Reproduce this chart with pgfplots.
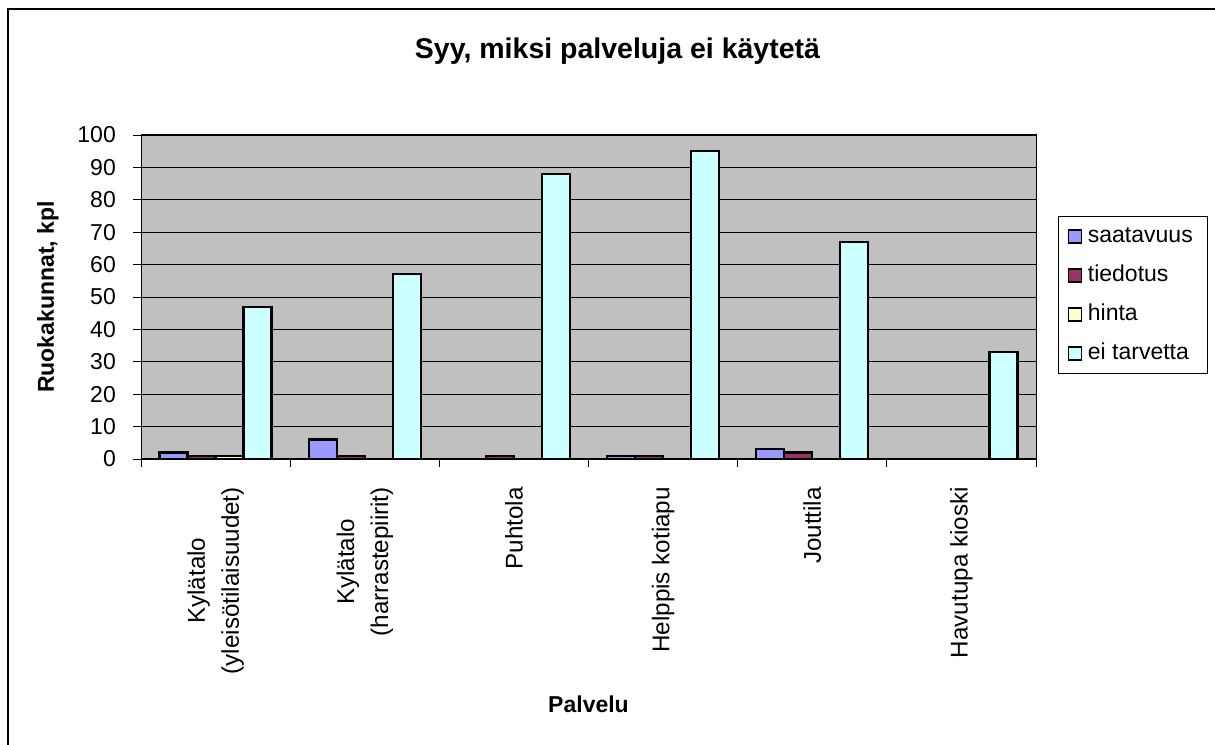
\documentclass[border=0pt]{standalone}
\usepackage{pgfplots}
\pgfplotsset{compat=1.18}
\usepackage{fontspec}
\setmainfont{Liberation Sans}
\definecolor{cSaat}{HTML}{9999FF}
\definecolor{cTied}{HTML}{993366}
\definecolor{cHint}{HTML}{FFFFCC}
\definecolor{cEi}{HTML}{CCFFFF}
\definecolor{cBg}{HTML}{C0C0C0}
\newcommand\fs{\fontsize{23}{27}\selectfont}
\newcommand\fx{\fontsize{24.2}{34}\selectfont}
\pgfplotsset{sqlegend/.style={legend image code/.code={\draw[##1,draw=black,line width=1.4pt] (0pt,-6.5pt) rectangle (13pt,6.5pt);}}}
\begin{document}
\begin{tikzpicture}
\useasboundingbox (0pt,0pt) rectangle (1215pt,744pt);
\draw[line width=1.5pt] (8pt,-5pt) -- (8pt,735pt) -- (1225pt,735pt);
\begin{axis}[
 at={(141pt,285pt)}, anchor=south west, scale only axis, width=895pt, height=324pt,
 xmin=-0.5, xmax=5.5, ymin=0, ymax=100,
 ybar=0pt, bar width=28pt,
 axis background/.style={fill=cBg},
 ytick={0,10,...,100}, ymajorgrids, grid style={black, line width=0.8pt},
 xtick={-0.5,0.5,...,5.5}, xticklabels={},
 extra x ticks={0,1,2,3,4,5},
 extra x tick labels={{Kylätalo\\(yleisötilaisuudet)},{Kylätalo\\(harrastepiirit)},Puhtola,Helppis kotiapu,Jouttila,Havutupa kioski},
 extra x tick style={major tick length=0pt, grid=none},
 tick align=outside, major tick length=8pt, tick pos=left,
 tick style={black, line width=0.8pt},
 axis line style={black, line width=1pt},
 x tick label style={font=\fx, rotate=90, anchor=east, align=center, inner sep=0pt, xshift=-28pt},
 y tick label style={font=\fs, /pgf/number format/assume math mode=true, inner sep=0pt, xshift=-17pt},
 legend style={at={(1.0246,0.75)}, anchor=north west, draw=black, line width=1pt, fill=white,
   font=\fs, inner xsep=9pt, inner ysep=6pt, row sep=11pt,
   nodes={inner xsep=6pt, inner ysep=3pt, text height=17pt, text depth=5pt}},
 legend cell align=left,
]
\addplot[fill=cSaat, draw=black, line width=2.2pt, sqlegend] coordinates {(0,2) (1,6) (3,1) (4,3)};
\addplot[fill=cTied, draw=black, line width=2.2pt, sqlegend] coordinates {(0,1) (1,1) (2,1) (3,1) (4,2)};
\addplot[fill=cHint, draw=black, line width=2.2pt, sqlegend] coordinates {(0,1)};
\addplot[fill=cEi, draw=black, line width=2.2pt, sqlegend] coordinates {(0,47) (1,57) (2,88) (3,95) (4,67) (5,33)};
\legend{saatavuus,tiedotus,hinta,ei tarvetta}
\end{axis}
\node[font=\fontsize{28.5}{32}\selectfont\bfseries, anchor=base] at (617.5pt,685pt) {Syy, miksi palveluja ei käytetä};
\node[font=\fs\bfseries, rotate=90, anchor=center] at (48pt,447pt) {Ruokakunnat, kpl};
\node[font=\fs\bfseries, anchor=center] at (588.5pt,40pt) {Palvelu};
\end{tikzpicture}
\end{document}
